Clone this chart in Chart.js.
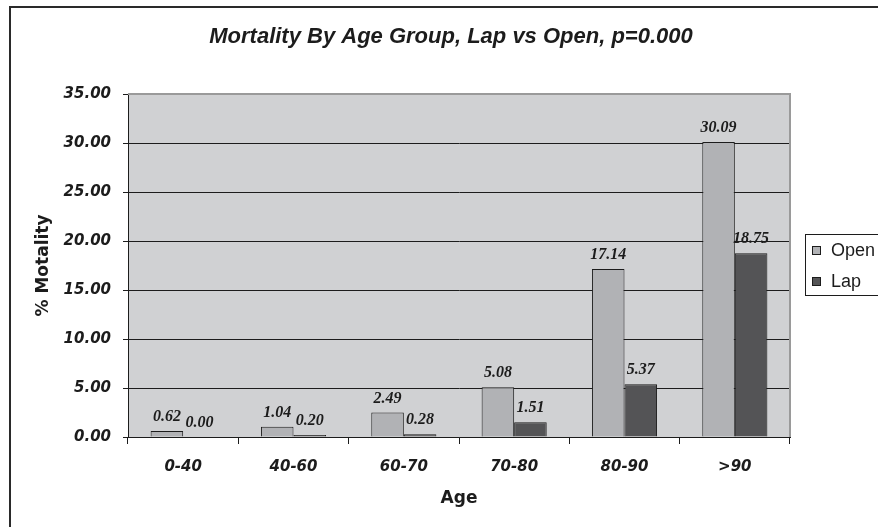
<!DOCTYPE html>
<html>
<head>
<meta charset="utf-8">
<script src="https://cdn.jsdelivr.net/npm/chart.js@4.4.1/dist/chart.umd.min.js"></script>
<style>
  html, body { margin: 0; padding: 0; background: #fff; }
</style>
</head>
<body>
<canvas id="chart" width="878" height="527"></canvas>
<script>
const ageGroups = ['0-40', '40-60', '60-70', '70-80', '80-90', '>90'];
const openMortality = [0.62, 1.04, 2.49, 5.08, 17.14, 30.09];
const lapMortality = [0.00, 0.20, 0.28, 1.51, 5.37, 18.75];
const seriesNames = ['Open', 'Lap'];
const chartTitle = 'Mortality By Age Group, Lap vs Open, p=0.000';
const yMax = 35;
const yStep = 5;

const OPEN_FILL = '#b1b2b5';
const LAP_FILL = '#545456';
const INK = '#1c1c1c';

// white page, cropped outer frame, grey plot area, title
const chartFrame = {
  id: 'chartFrame',
  beforeDraw(chart) {
    const { ctx, chartArea: a } = chart;
    ctx.save();
    ctx.fillStyle = '#ffffff';
    ctx.fillRect(0, 0, chart.width, chart.height);
    ctx.strokeStyle = '#2a2a2a';
    ctx.lineWidth = 2;
    ctx.strokeRect(10, 7, chart.width + 20, chart.height + 20);
    ctx.fillStyle = '#d0d1d3';
    ctx.fillRect(a.left, a.top, a.width, a.height);

    ctx.font = 'italic bold 22px "Liberation Sans"';
    ctx.fillStyle = INK;
    ctx.textAlign = 'center';
    ctx.textBaseline = 'alphabetic';
    ctx.fillText(chartTitle, 451, 43);
    ctx.restore();
  },
  beforeDatasetsDraw(chart) {
    const { ctx, chartArea: a } = chart;
    ctx.save();
    ctx.strokeStyle = '#9a9a9a';
    ctx.lineWidth = 2;
    ctx.beginPath();
    ctx.moveTo(a.left, a.top);
    ctx.lineTo(a.right, a.top);
    ctx.lineTo(a.right, a.bottom);
    ctx.stroke();
    ctx.restore();
  },
};

// value labels above each bar
const barValues = {
  id: 'barValues',
  afterDatasetsDraw(chart) {
    const { ctx } = chart;
    ctx.save();
    ctx.font = 'italic bold 16px "Liberation Serif"';
    ctx.fillStyle = INK;
    ctx.textAlign = 'center';
    ctx.textBaseline = 'alphabetic';
    chart.data.datasets.forEach((ds, i) => {
      chart.getDatasetMeta(i).data.forEach((bar, j) => {
        ctx.fillText(ds.data[j].toFixed(2), bar.x, bar.y - 10);
      });
    });
    ctx.restore();
  },
};

// boxed legend at the right, cut by the picture edge
const sideLegend = {
  id: 'sideLegend',
  afterDraw(chart) {
    const { ctx } = chart;
    const x = 805, y = 234;
    ctx.save();
    ctx.fillStyle = '#ffffff';
    ctx.fillRect(x, y, 120, 62);
    ctx.strokeStyle = INK;
    ctx.lineWidth = 1;
    ctx.strokeRect(x + 0.5, y + 0.5, 120, 61);
    ctx.font = '18px "Liberation Sans"';
    ctx.textBaseline = 'middle';
    chart.data.datasets.forEach((ds, i) => {
      const cy = y + 16 + i * 31;
      ctx.fillStyle = ds.backgroundColor;
      ctx.fillRect(x + 7, cy - 4, 9, 9);
      ctx.strokeStyle = INK;
      ctx.strokeRect(x + 7.5, cy - 3.5, 8, 8);
      ctx.fillStyle = INK;
      ctx.fillText(ds.label, x + 26, cy + 1);
    });
    ctx.restore();
  },
};

new Chart(document.getElementById('chart'), {
  type: 'bar',
  data: {
    labels: ageGroups,
    datasets: [
      {
        label: seriesNames[0],
        data: openMortality,
        backgroundColor: OPEN_FILL,
        borderColor: INK,
        borderWidth: 1,
      },
      {
        label: seriesNames[1],
        data: lapMortality,
        backgroundColor: LAP_FILL,
        borderColor: INK,
        borderWidth: 1,
      },
    ],
  },
  options: {
    responsive: false,
    animation: false,
    devicePixelRatio: 1,
    layout: { padding: { left: 10, top: 94, right: 88, bottom: 0 } },
    datasets: {
      bar: { categoryPercentage: 0.59, barPercentage: 1.0 },
    },
    plugins: {
      legend: { display: false },
      tooltip: { enabled: false },
      title: { display: false },
    },
    scales: {
      x: {
        afterFit: (scale) => { scale.height = 90; },
        grid: {
          offset: true,
          drawOnChartArea: false,
          drawTicks: true,
          tickLength: 7,
          color: INK,
        },
        border: { display: true, color: INK, width: 1 },
        ticks: {
          color: INK,
          padding: 14,
          font: { family: '"DejaVu Sans"', size: 15, style: 'italic', weight: 'bold' },
        },
        title: {
          display: true,
          text: 'Age',
          color: INK,
          font: { family: '"DejaVu Sans"', size: 17, weight: 'bold' },
          padding: { top: 0, bottom: 18 },
        },
      },
      y: {
        min: 0,
        max: yMax,
        afterFit: (scale) => { scale.width = 118; },
        grid: {
          color: (c) => (c.tick && c.tick.value === yMax ? '#9a9a9a' : INK),
          tickColor: INK,
          tickLength: 5,
          lineWidth: 1,
        },
        border: { display: true, color: INK, width: 1 },
        ticks: {
          stepSize: yStep,
          color: INK,
          padding: 12,
          font: { family: '"DejaVu Sans"', size: 15, style: 'italic', weight: 'bold' },
          callback: (v) => Number(v).toFixed(2),
        },
        title: {
          display: true,
          text: '% Motality',
          color: INK,
          font: { family: '"DejaVu Sans"', size: 17, weight: 'bold' },
          padding: { top: 23, bottom: 0 },
        },
      },
    },
  },
  plugins: [chartFrame, barValues, sideLegend],
});
</script>
</body>
</html>
